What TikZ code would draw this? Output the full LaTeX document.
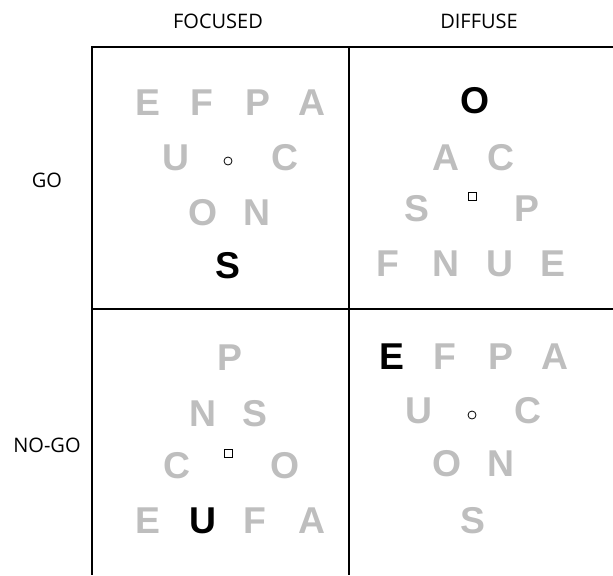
\documentclass[tikz,border=0pt]{standalone}
\usepackage{fontspec}
\setmainfont{Open Sans}
\newfontfamily\letterfont{Liberation Sans Bold}
\definecolor{lgray}{RGB}{190,190,190}
\begin{document}
\begin{tikzpicture}[x=0.75pt,y=-0.75pt,
  lt/.style={font=\letterfont\fontsize{28pt}{28pt}\selectfont, text=lgray, inner sep=0pt, text height=20pt, text depth=0pt},
  ltb/.style={lt, text=black},
  hdr/.style={font=\fontsize{15pt}{15pt}\selectfont, inner sep=0pt, text height=11pt, text depth=0pt},
  grid/.style={line width=1.5pt, black},
  fix/.style={draw=black, line width=0.6pt, inner sep=0pt},
]
\useasboundingbox (0,0) rectangle (613,575);
% grid
\coordinate (tlc) at (92,47);
\coordinate (trc) at (613,47);
\coordinate (mlc) at (92,309);
\coordinate (mrc) at (613,309);
\coordinate (blc) at (92,575);
\coordinate (tmc) at (349,47);
\coordinate (bmc) at (349,575);
\draw[grid] (trc) -- (tlc) -- (blc);
\draw[grid] (mlc) -- (mrc);
\draw[grid] (tmc) -- (bmc);
% headers
\node[hdr] (hf) at (218,21) {FOCUSED};
\node[hdr] (hd) at (479,21) {DIFFUSE};
\node[hdr] (hg) at (47,180) {GO};
\node[hdr] (hn) at (47,445) {NO-GO};
% top-left
\node[lt] (a1) at (148,102) {E};
\node[lt] (a2) at (202,102) {F};
\node[lt] (a3) at (258,102) {P};
\node[lt] (a4) at (312,102) {A};
\node[lt] (a5) at (176,157) {U};
\node[fix,circle,minimum size=6pt] (a0) at (228,161) {};
\node[lt] (a6) at (285,157) {C};
\node[lt] (a7) at (203,212) {O};
\node[lt] (a8) at (257,212) {N};
\node[ltb] (a9) at (228,265) {S};
% top-right
\node[ltb] (b1) at (475,100) {O};
\node[lt] (b2) at (446,157) {A};
\node[lt] (b3) at (501,157) {C};
\node[fix,rectangle,minimum size=6pt] (b0) at (472,196) {};
\node[lt] (b4) at (417,208) {S};
\node[lt] (b5) at (527,208) {P};
\node[lt] (b6) at (388,263) {F};
\node[lt] (b7) at (446,263) {N};
\node[lt] (b8) at (500,263) {U};
\node[lt] (b9) at (553,263) {E};
% bottom-left
\node[lt] (c1) at (230,357) {P};
\node[lt] (c2) at (203,413) {N};
\node[lt] (c3) at (255,413) {S};
\node[fix,rectangle,minimum size=6pt] (c0) at (228,453) {};
\node[lt] (c4) at (177,465) {C};
\node[lt] (c5) at (285,465) {O};
\node[lt] (c6) at (148,520) {E};
\node[ltb] (c7) at (203,520) {U};
\node[lt] (c8) at (255,520) {F};
\node[lt] (c9) at (312,520) {A};
% bottom-right
\node[ltb] (d1) at (392,356) {E};
\node[lt] (d2) at (445,356) {F};
\node[lt] (d3) at (501,356) {P};
\node[lt] (d4) at (555,356) {A};
\node[lt] (d5) at (419,410) {U};
\node[fix,circle,minimum size=6pt] (d0) at (472,415) {};
\node[lt] (d6) at (528,410) {C};
\node[lt] (d7) at (447,463) {O};
\node[lt] (d8) at (501,463) {N};
\node[lt] (d9) at (473,520) {S};
\end{tikzpicture}
\end{document}
